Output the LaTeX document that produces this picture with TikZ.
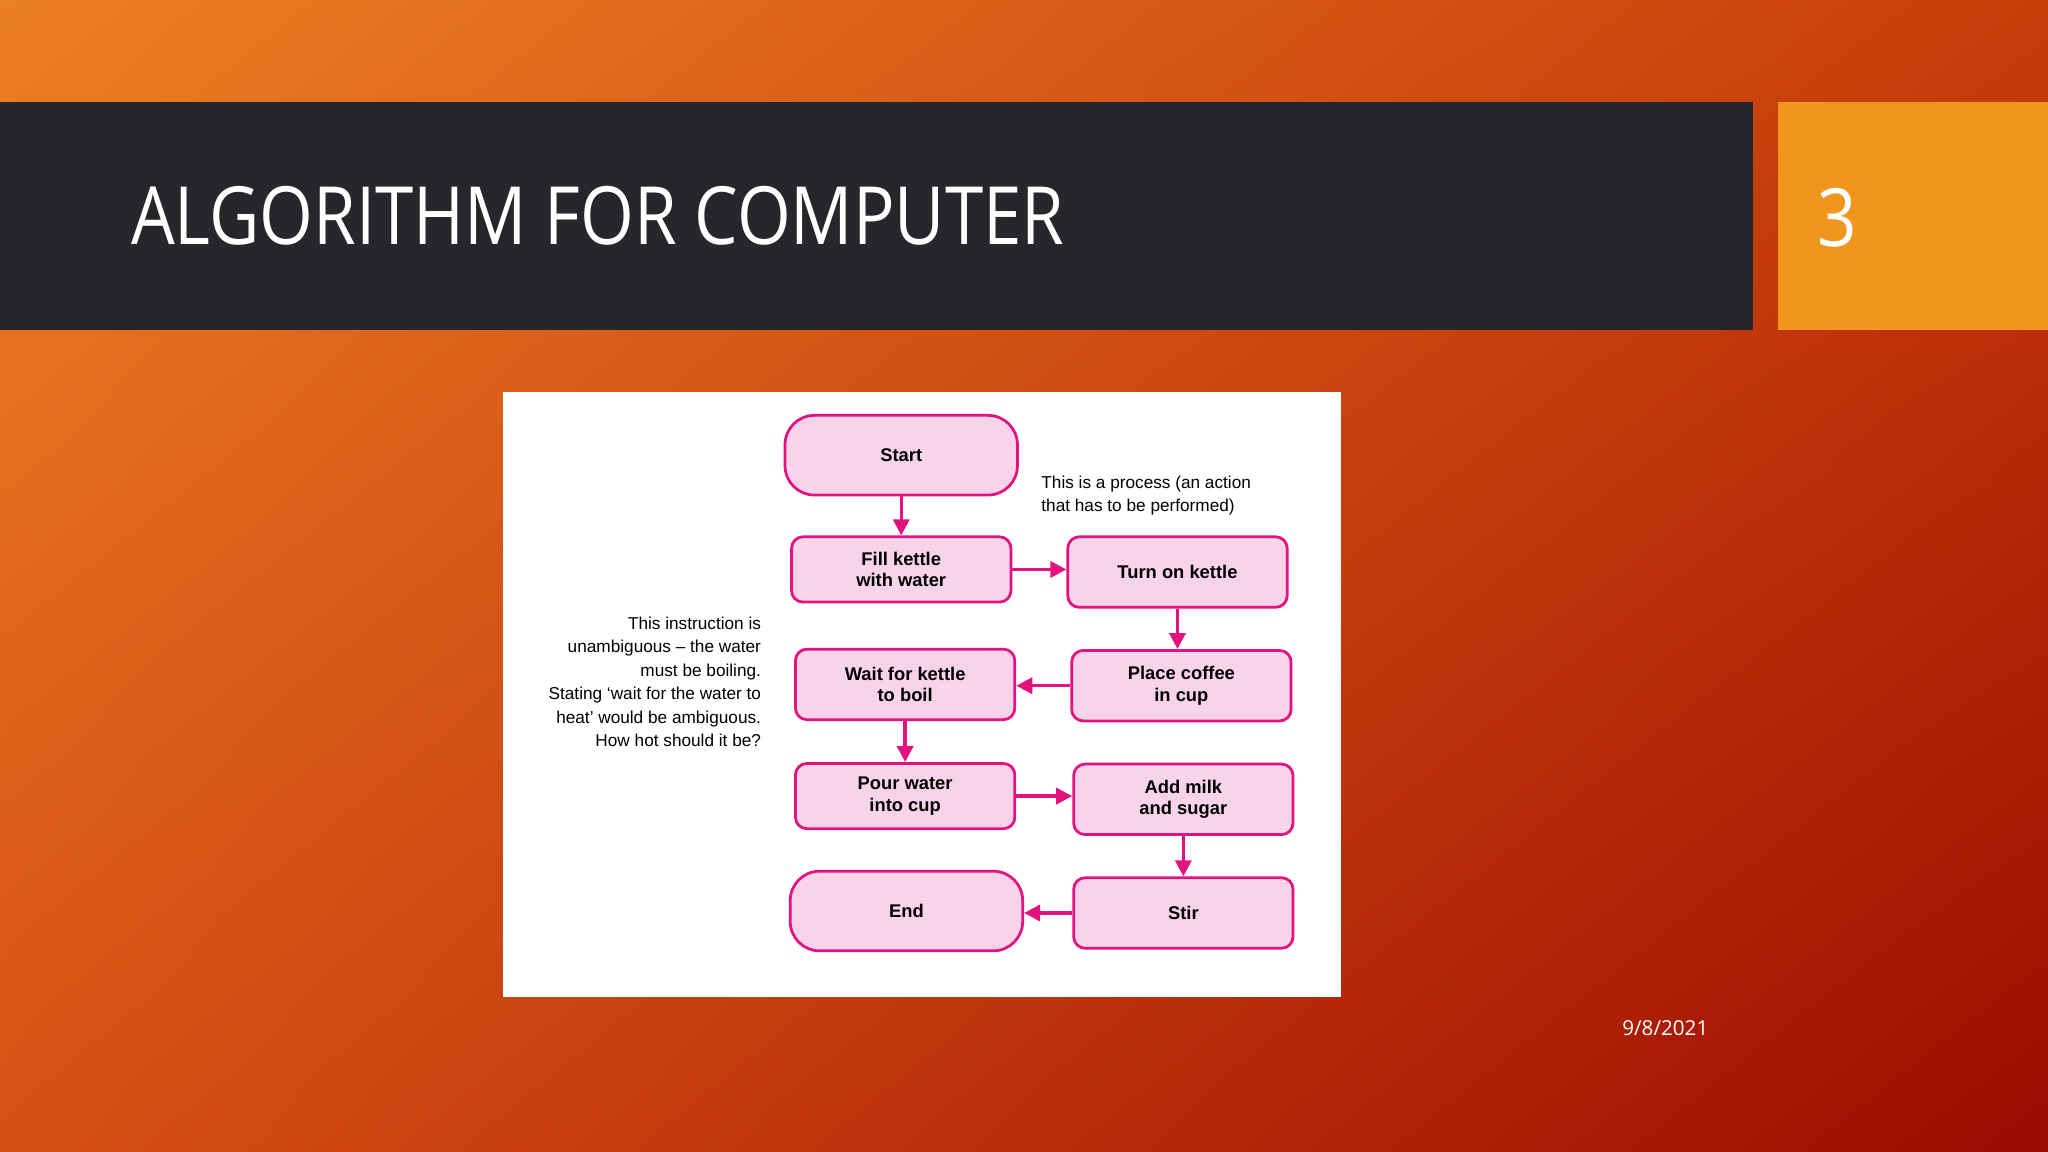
\documentclass[tikz,border=0pt]{standalone}
\usepackage{fontspec}
\setmainfont{Open Sans}
\newfontfamily\arialf{Liberation Sans}
\usetikzlibrary{arrows.meta,shadings}
\definecolor{pinkfill}{HTML}{F9D3E9}
\definecolor{mag}{HTML}{E2137E}
\definecolor{bar}{HTML}{27262A}
\definecolor{orbox}{HTML}{F0951E}
\definecolor{bgul}{RGB}{236,128,36}
\definecolor{bgur}{RGB}{200,60,10}
\definecolor{bgll}{RGB}{215,80,20}
\definecolor{bglr}{RGB}{155,10,0}
\begin{document}
\begin{tikzpicture}[x=0.02cm,y=-0.02cm,
  proc/.style={draw=mag,line width=1.2pt,fill=pinkfill,rounded corners=5pt,minimum width=3.36cm,minimum height=1.0cm,align=center,font=\arialf\fontsize{8}{9.5}\selectfont\bfseries,inner sep=1pt},
  term/.style={proc,rounded corners=0.45cm,minimum width=3.56cm,minimum height=1.22cm},
  arr/.style={draw=mag,line width=1.5pt,-{Triangle[length=7pt,width=7pt]}},
  note/.style={font=\arialf\fontsize{7.5}{10.2}\selectfont,inner sep=0pt}]
\useasboundingbox (0,0) rectangle (1568,882);
\shade[upper left=bgul, upper right=bgur, lower left=bgll, lower right=bglr]
  (0,0) rectangle (1568,882);
\fill[bar] (0,78) rectangle (1342,253);
\fill[orbox] (1361,78) rectangle (1568,253);
\node[anchor=west,text=white,font=\fontsize{35}{40}\selectfont,inner sep=0pt] (title) at (100,165) {\scalebox{0.86}[1]{ALGORITHM FOR COMPUTER}};
\node[text=white,font=\fontsize{35}{40}\selectfont,inner sep=0pt] (num) at (1407,167) {\scalebox{0.86}[1]{3}};
\node[text=white,font=\fontsize{9}{10}\selectfont,inner sep=0pt] (date) at (1275,787) {9/8/2021};
\fill[white] (385,300) rectangle (1027,763);
\node[term] (start) at (690,348.5) {Start};
\node[proc] (fill) at (690,436) {Fill kettle\\with water};
\node[proc,minimum height=1.08cm] (turn) at (901.5,438) {Turn on kettle};
\node[proc,minimum height=1.08cm] (wait) at (693,524) {Wait for kettle\\to boil};
\node[proc,minimum height=1.08cm] (place) at (904.5,525) {Place coffee\\in cup};
\node[proc] (pour) at (693,609.5) {Pour water\\into cup};
\node[proc,minimum height=1.08cm] (milk) at (906,612) {Add milk\\and sugar};
\node[term] (end) at (694,697.5) {End};
\node[proc,minimum height=1.08cm] (stir) at (906,699) {Stir};
\draw[arr] (start) -- (fill);
\draw[arr] (fill) -- (fill-|turn.west);
\draw[arr] (turn) -- (turn|-place.north);
\draw[arr] (place) -- (place-|wait.east);
\draw[arr] (wait) -- (pour);
\draw[arr] (pour) -- (pour-|milk.west);
\draw[arr] (milk) -- (milk|-stir.north);
\draw[arr] (stir) -- (stir-|end.east);
\node[note,anchor=north west,align=left] (n1) at (797,364) {This is a process (an action\\that has to be performed)};
\node[note,anchor=north east,align=right] (n2) at (583,472) {This instruction is\\unambiguous – the water\\must be boiling.\\Stating ‘wait for the water to\\heat’ would be ambiguous.\\How hot should it be?};
\end{tikzpicture}
\end{document}
